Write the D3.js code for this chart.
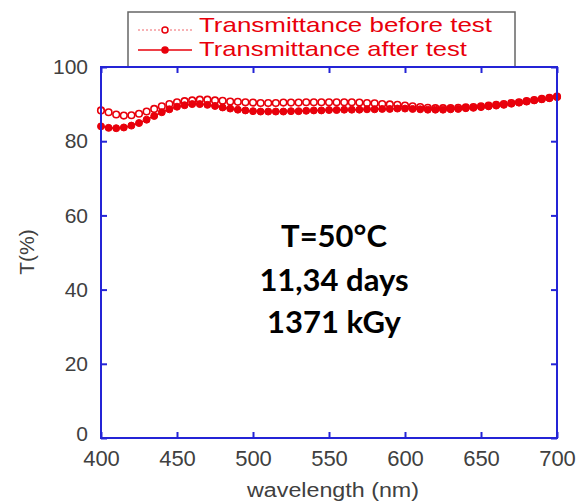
<!DOCTYPE html>
<html><head><meta charset="utf-8">
<script src="https://cdn.jsdelivr.net/npm/d3@7"></script>
<style>body{margin:0;background:#fff}svg{display:block}</style>
</head><body>
<svg id="c" width="587" height="503"></svg>
<script>
const wavelengths = d3.range(400, 701, 5);
const beforeTest = [88.3,87.8,87.2,86.9,87.0,87.4,88.0,88.7,89.4,90.0,90.5,90.8,91.0,91.2,91.2,91.0,90.9,90.7,90.6,90.5,90.4,90.3,90.3,90.3,90.4,90.4,90.4,90.5,90.5,90.5,90.5,90.5,90.5,90.5,90.4,90.3,90.2,90.0,89.9,89.8,89.6,89.4,89.2,89.0,88.9,88.9,88.9,89.0,89.1,89.2,89.4,89.6,89.8,90.0,90.3,90.5,90.8,91.1,91.4,91.7,92.0];
const afterTest = [84.0,83.6,83.5,83.7,84.2,84.9,85.8,86.8,87.8,88.6,89.3,89.7,90.0,90.0,89.8,89.5,89.1,88.8,88.5,88.3,88.1,88.0,88.0,88.0,88.0,88.1,88.1,88.2,88.3,88.3,88.4,88.4,88.5,88.5,88.5,88.6,88.6,88.7,88.7,88.8,88.8,88.7,88.6,88.5,88.5,88.5,88.6,88.7,88.9,89.0,89.2,89.4,89.6,89.8,90.1,90.4,90.7,91.0,91.3,91.6,91.9];
const xTicks = [400,450,500,550,600,650,700];
const yTicks = [0,20,40,60,80,100];
const legendLabels = ["Transmittance before test","Transmittance after test"];
const annotation = ["T=50°C","11,34 days","1371 kGy"];

const svg = d3.select("#c");
const L=101, R=557, T=67, B=438;
const x = d3.scaleLinear().domain([400,700]).range([L,R]);
const y = d3.scaleLinear().domain([0,100]).range([B,T]);
const red = "#e8000b", blue = "#2424d6", grey = "#404040";
const sans = "Liberation Sans, Arial, sans-serif";

// legend box (behind plot)
svg.append("rect").attr("x",128).attr("y",12).attr("width",387).attr("height",70)
  .attr("fill","#fff").attr("stroke","#666").attr("stroke-width",1.5);
const lg = svg.append("g");
[0,1].forEach(i=>{
  const cy = i===0?30:50;
  lg.append("line").attr("x1",138).attr("x2",192).attr("y1",cy).attr("y2",cy)
    .attr("stroke",red).attr("stroke-width",i===0?1:1.5)
    .attr("stroke-dasharray",i===0?"2,2":null).attr("opacity",i===0?0.6:1);
  lg.append("circle").attr("cx",165).attr("cy",cy).attr("r",3)
    .attr("fill",i===0?"#fff":red).attr("stroke",red).attr("stroke-width",1.5);
  lg.append("text").attr("x",199).attr("y",i===0?32:56).text(legendLabels[i])
    .attr("font-family",sans).attr("font-size",21)
    .attr("fill",red).attr("textLength",i===0?293:268).attr("lengthAdjust","spacingAndGlyphs");
});

// plot background covering legend box bottom
svg.append("rect").attr("x",L).attr("y",T).attr("width",R-L).attr("height",B-T).attr("fill","#fff");

// data
const line = d3.line().x((d,i)=>x(wavelengths[i])).y(d=>y(d));
svg.append("path").datum(beforeTest).attr("d",line).attr("fill","none")
  .attr("stroke",red).attr("stroke-width",1).attr("stroke-dasharray","2,2");
svg.append("path").datum(afterTest).attr("d",line).attr("fill","none")
  .attr("stroke",red).attr("stroke-width",1.5);
svg.append("g").selectAll("circle").data(beforeTest).join("circle")
  .attr("cx",(d,i)=>x(wavelengths[i])).attr("cy",d=>y(d)).attr("r",3.3)
  .attr("fill","#fff").attr("stroke",red).attr("stroke-width",1.6);
svg.append("g").selectAll("circle").data(afterTest).join("circle")
  .attr("cx",(d,i)=>x(wavelengths[i])).attr("cy",d=>y(d)).attr("r",3.5)
  .attr("fill",red).attr("stroke",red).attr("stroke-width",1);

// axes
function styleAxis(g, size){
  g.select(".domain").remove();
  g.selectAll(".tick line").attr("stroke",blue).attr("stroke-width",2);
  g.selectAll(".tick text").attr("fill",grey)
    .attr("font-family",sans).attr("font-size",size);
}
svg.append("g").attr("transform",`translate(0,${B})`)
  .call(d3.axisBottom(x).tickValues(xTicks).tickSize(-6).tickPadding(12).tickFormat(d3.format("d")))
  .call(g=>styleAxis(g,22));
svg.append("g").attr("transform",`translate(0,${T})`)
  .call(d3.axisTop(x).tickValues(xTicks).tickSize(-6).tickFormat(""))
  .call(g=>styleAxis(g,22));
const yAxisG = svg.append("g").attr("transform",`translate(${L},0)`)
  .call(d3.axisLeft(y).tickValues(yTicks).tickSize(-6).tickPadding(13).tickFormat(d3.format("d")))
  .call(g=>styleAxis(g,21));
yAxisG.selectAll(".tick text").filter(d=>d===0).attr("y",-4);
svg.append("g").attr("transform",`translate(${R},0)`)
  .call(d3.axisRight(y).tickValues(yTicks).tickSize(-6).tickFormat(""))
  .call(g=>styleAxis(g,21));
svg.append("rect").attr("x",L).attr("y",T).attr("width",R-L).attr("height",B-T)
  .attr("fill","none").attr("stroke",blue).attr("stroke-width",2);

// axis titles
svg.append("text").attr("x",333).attr("y",497).attr("text-anchor","middle")
  .attr("font-family",sans).attr("font-size",20).attr("fill",grey)
  .attr("textLength",172).attr("lengthAdjust","spacingAndGlyphs")
  .text("wavelength (nm)");
svg.append("text").attr("transform","translate(34,252) rotate(-90)").attr("text-anchor","middle")
  .attr("font-family",sans).attr("font-size",21).attr("fill",grey)
  .text("T(%)");

// annotation
const baselines=[247,291,333];
annotation.forEach((t,i)=>{
  svg.append("text").attr("x",334).attr("y",baselines[i]).attr("text-anchor","middle")
    .attr("font-family","Lato, sans-serif").attr("font-weight","bold").attr("font-size",31)
    .attr("fill","#000").text(t);
});
</script>
</body></html>
